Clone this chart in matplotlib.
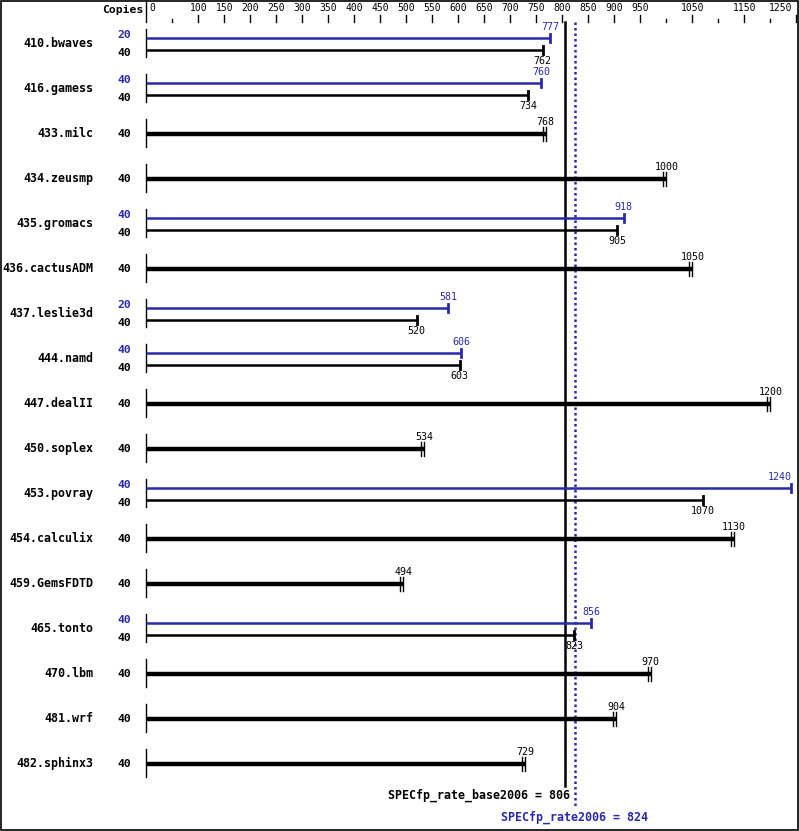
import matplotlib
matplotlib.use("Agg")
import matplotlib.pyplot as plt
import matplotlib.transforms as mtransforms

# benchmark data
benchmarks = ["410.bwaves", "416.gamess", "433.milc", "434.zeusmp", "435.gromacs",
              "436.cactusADM", "437.leslie3d", "444.namd", "447.dealII", "450.soplex",
              "453.povray", "454.calculix", "459.GemsFDTD", "465.tonto", "470.lbm",
              "481.wrf", "482.sphinx3"]
base_copies = [40] * 17
base_vals = [762, 734, 768, 1000, 905, 1050, 520, 603, 1200, 534,
             1070, 1130, 494, 823, 970, 904, 729]
# None = no separate peak result
peak_copies = [20, 40, None, None, 40, None, 20, 40, None, None,
               40, None, None, 40, None, None, None]
peak_vals = [777, 760, None, None, 918, None, 581, 606, None, None,
             1240, None, None, 856, None, None, None]
base_mean = 806
peak_mean = 824
tick_labels = [100, 150, 200, 250, 300, 350, 400, 450, 500, 550, 600, 650,
               700, 750, 800, 850, 900, 950, 1050, 1150, 1250]
minor_ticks = [50, 1000, 1100, 1200]

BLUE = "#2a2aa8"
W, H = 799, 831
X0PX = 146.3   # pixel of value 0
SCALE = 0.52   # pixels per unit
RIGHT_EDGE = 792

fig = plt.figure(figsize=(W / 100, H / 100), dpi=100)
ax = fig.add_axes([0, 0, 1, 1])
ax.set_xlim(-X0PX / SCALE, (W - X0PX) / SCALE)
ax.set_ylim(H, 0)
ax.axis("off")


def px(x):
    # pixel x -> data x
    return (x - X0PX) / SCALE


def value_label(v, y, color="black", size=7.2):
    # centred on the value, but kept inside the right edge
    half = len(str(v)) * 0.602 * size * 100 / 72 / 2
    xpx = X0PX + v * SCALE
    if xpx + half > RIGHT_EDGE:
        ax.text(px(RIGHT_EDGE), y, str(v), ha="right", va="center", family=mono,
                fontsize=size, color=color)
    else:
        ax.text(v, y, str(v), ha="center", va="center", family=mono,
                fontsize=size, color=color)


mono = "DejaVu Sans Mono"

# border
ax.add_patch(plt.Rectangle((px(0.5), 0.5), W / SCALE - 1 / SCALE, H - 1.5,
                           fill=False, lw=1.2, ec="black"))

# top axis
ax.plot([0, 0], [0, 22], color="black", lw=1)
ax.text(px(143), 10, "Copies", ha="right", va="center", family=mono,
        fontweight="bold", fontsize=8.2)
ax.text(px(149), 8, "0", ha="left", va="center", family=mono, fontsize=7)
for t in tick_labels:
    ax.plot([t, t], [15, 22], color="black", lw=1)
    value_label(t, 8, size=7)
for t in minor_ticks:
    ax.plot([t, t], [19, 22], color="black", lw=1)

# mean lines
ax.plot([base_mean, base_mean], [22, 786], color="black", lw=1.8)
ax.plot([peak_mean, peak_mean], [22, 808], color=BLUE, lw=1.8, ls=(0, (1, 1.2)))
ax.text(base_mean + 5 / SCALE, 795, "SPECfp_rate_base2006 = %d" % base_mean,
        ha="right", va="center", family=mono, fontweight="bold", fontsize=8.4)
ax.text(peak_mean, 817, "SPECfp_rate2006 = %d" % peak_mean, ha="center", va="center",
        family=mono, fontweight="bold", fontsize=8.4, color=BLUE)

shift = mtransforms.ScaledTranslation(-3 / 100, 0, fig.dpi_scale_trans)

for i, name in enumerate(benchmarks):
    c = 43.3 + 45 * i
    ax.plot([0, 0], [c - 14, c + 14], color="black", lw=1)
    ax.text(px(93), c, name, ha="right", va="center", family=mono,
            fontweight="bold", fontsize=8.4)
    b = base_vals[i]
    if peak_vals[i] is None:
        ax.plot([0, b], [c + 0.7, c + 0.7], color="black", lw=3.2, solid_capstyle="butt")
        ax.plot([b, b], [c - 6.5, c + 7.5], color="black", lw=1)
        ax.plot([b, b], [c - 6.5, c + 7.5], color="black", lw=1,
                transform=ax.transData + shift)
        value_label(b, c - 11.5)
        ax.text(px(131), c + 0.7, str(base_copies[i]), ha="right", va="center",
                family=mono, fontweight="bold", fontsize=8.2)
    else:
        p = peak_vals[i]
        yp, yb = c - 5.7, c + 6.3
        ax.plot([0, p], [yp, yp], color=BLUE, lw=1.8, solid_capstyle="butt")
        ax.plot([p, p], [yp - 4, yp + 4], color=BLUE, lw=2)
        ax.plot([0, b], [yb, yb], color="black", lw=1.8, solid_capstyle="butt")
        ax.plot([b, b], [yb - 4, yb + 4], color="black", lw=2)
        value_label(p, yp - 11, color=BLUE)
        value_label(b, yb + 11.5)
        ax.text(px(131), c - 8, str(peak_copies[i]), ha="right", va="center",
                family=mono, fontweight="bold", fontsize=8.2, color=BLUE)
        ax.text(px(131), c + 9.5, str(base_copies[i]), ha="right", va="center",
                family=mono, fontweight="bold", fontsize=8.2)

fig.savefig("out.png", dpi=100)
